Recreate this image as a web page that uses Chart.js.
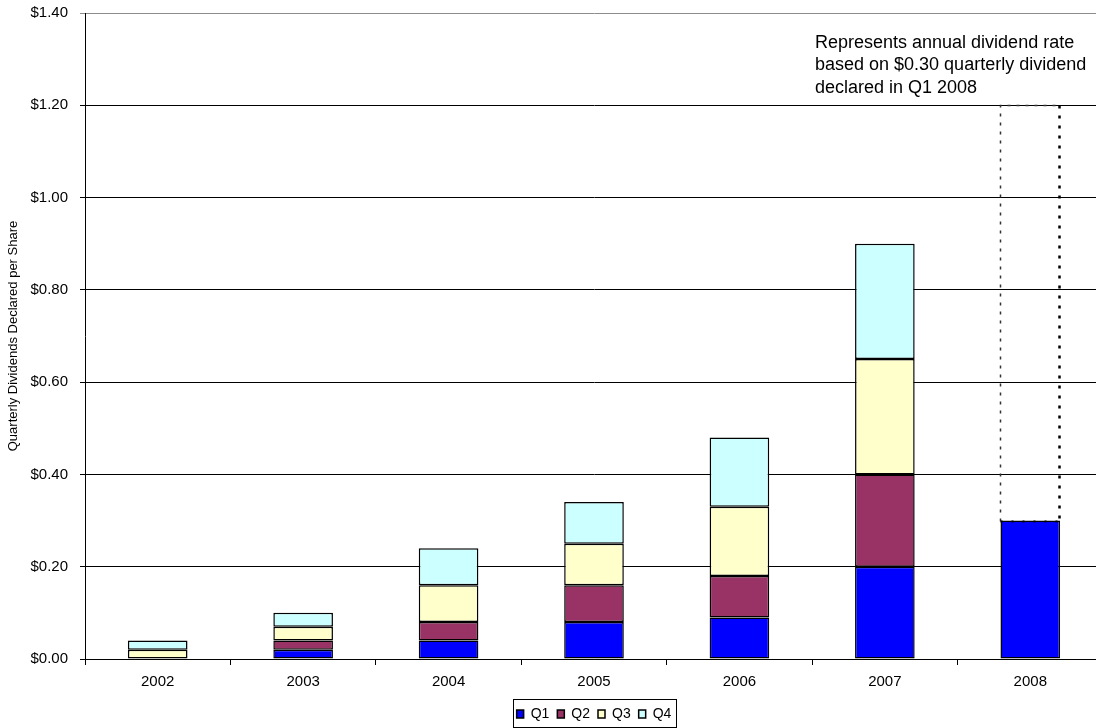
<!DOCTYPE html>
<html>
<head>
<meta charset="utf-8">
<script src="https://cdn.jsdelivr.net/npm/chart.js@4/dist/chart.umd.min.js"></script>
<style>
  html, body { margin: 0; padding: 0; background: #fff; overflow: hidden; }
  #wrap { width: 1184px; height: 728px; }
</style>
</head>
<body>
<div id="wrap"><canvas id="c" width="1184" height="728"></canvas></div>
<script>
// Dividends declared per share, by year and quarter
const years = ['2002', '2003', '2004', '2005', '2006', '2007', '2008'];
const q1 = [null, 0.02, 0.04, 0.08, 0.09, 0.20, 0.30];
const q2 = [null, 0.02, 0.04, 0.08, 0.09, 0.20, null];
const q3 = [0.02, 0.03, 0.08, 0.09, 0.15, 0.25, null];
const q4 = [0.02, 0.03, 0.08, 0.09, 0.15, 0.25, null];
// Remainder of the 2008 annual rate ($0.30 x 4 = $1.20) above Q1
const annualRemainder = [null, null, null, null, null, null, 0.90];
const yTicks = [0, 0.2, 0.4, 0.6, 0.8, 1.0, 1.2, 1.4];
const noteLines = [
  'Represents annual dividend rate',
  'based on $0.30 quarterly dividend',
  'declared in Q1 2008'
];

const FONT = '"Liberation Sans", Arial, sans-serif';

const barCommon = {
  borderColor: '#000',
  borderWidth: 1.5,
  borderSkipped: false,
  barPercentage: 0.41,
  categoryPercentage: 1.0
};

// Dotted outline around the annual-rate bar
const dottedOutline = {
  id: 'dottedOutline',
  afterDatasetsDraw(chart) {
    const meta = chart.getDatasetMeta(4);
    const ctx = chart.ctx;
    meta.data.forEach((bar, i) => {
      if (annualRemainder[i] == null) return;
      const p = bar.getProps(['x', 'y', 'base', 'width'], true);
      const l = Math.round(p.x - p.width / 2) + 0.5;
      const r = Math.round(p.x + p.width / 2) - 0.5;
      const t = Math.round(p.y) + 0.5;
      const b = Math.round(p.base) + 0.5;
      ctx.save();
      // top and left edges
      ctx.strokeStyle = '#333';
      ctx.lineWidth = 1.5;
      ctx.setLineDash([3, 6]);
      ctx.beginPath();
      ctx.moveTo(l, b); ctx.lineTo(l, t); ctx.lineTo(r, t);
      ctx.stroke();
      // right edge, heavier
      ctx.strokeStyle = '#000';
      ctx.lineWidth = 2.5;
      ctx.setLineDash([3, 7]);
      ctx.beginPath();
      ctx.moveTo(r, t); ctx.lineTo(r, b);
      ctx.stroke();
      // bottom edge over the Q1 bar
      ctx.lineWidth = 2;
      ctx.setLineDash([2, 9]);
      ctx.beginPath();
      ctx.moveTo(l, b); ctx.lineTo(r, b);
      ctx.stroke();
      ctx.restore();
    });
  }
};

// Explanatory note above the 2008 bar
const notePlugin = {
  id: 'note',
  afterDraw(chart) {
    const ctx = chart.ctx;
    ctx.save();
    ctx.fillStyle = '#000';
    ctx.font = '18px ' + FONT;
    ctx.textAlign = 'left';
    ctx.textBaseline = 'middle';
    noteLines.forEach((s, i) => ctx.fillText(s, 815, 43 + i * 22.5));
    ctx.restore();
  }
};

// Thin frame around the legend entries
const legendFrame = {
  id: 'legendFrame',
  afterDraw(chart) {
    const boxes = chart.legend && chart.legend.legendHitBoxes;
    if (!boxes || !boxes.length) return;
    let l = Infinity, r = -Infinity, t = Infinity, b = -Infinity;
    boxes.forEach(h => {
      l = Math.min(l, h.left); r = Math.max(r, h.left + h.width);
      t = Math.min(t, h.top); b = Math.max(b, h.top + h.height);
    });
    const cy = (t + b) / 2;
    const ctx = chart.ctx;
    ctx.save();
    ctx.strokeStyle = '#000';
    ctx.lineWidth = 1;
    ctx.strokeRect(Math.round(l - 4) + 0.5, Math.round(cy - 15) + 0.5,
                   Math.round(r - l + 8), 28);
    ctx.restore();
  }
};

new Chart(document.getElementById('c'), {
  type: 'bar',
  data: {
    labels: years,
    datasets: [
      Object.assign({ label: 'Q1', data: q1, backgroundColor: '#0000FF' }, barCommon),
      Object.assign({ label: 'Q2', data: q2, backgroundColor: '#993366' }, barCommon),
      Object.assign({ label: 'Q3', data: q3, backgroundColor: '#FFFFCC' }, barCommon),
      Object.assign({ label: 'Q4', data: q4, backgroundColor: '#CCFFFF' }, barCommon),
      Object.assign({}, barCommon, {
        label: 'Annual rate', data: annualRemainder,
        backgroundColor: 'rgba(255,255,255,0)', borderWidth: 0
      })
    ]
  },
  options: {
    responsive: false,
    animation: false,
    layout: { padding: { top: 0, right: 81, left: 0, bottom: -3 } },
    plugins: {
      tooltip: { enabled: false },
      legend: {
        position: 'bottom',
        fullSize: false,
        labels: {
          filter: item => item.datasetIndex < 4,
          boxWidth: 7,
          boxHeight: 8,
          padding: 8,
          color: '#000',
          font: { family: FONT, size: 14 }
        }
      }
    },
    scales: {
      x: {
        stacked: true,
        offset: true,
        grid: {
          offset: true,
          drawOnChartArea: false,
          drawTicks: true,
          tickLength: 6,
          color: '#000'
        },
        border: { color: '#000', width: 1 },
        ticks: { color: '#000', padding: 8, font: { family: FONT, size: 15 }, maxRotation: 0 },
        afterFit(s) { s.height = 40; }
      },
      y: {
        stacked: true,
        min: 0,
        max: 1.4,
        afterBuildTicks(s) { s.ticks = yTicks.map(v => ({ value: v })); },
        afterFit(s) { s.width = 85; s.paddingTop = 13; s.paddingBottom = 0; },
        grid: {
          color: ctx => (ctx.tick && ctx.tick.value >= 1.39 ? '#8c8c8c' : '#000'),
          lineWidth: 1,
          drawTicks: true,
          tickLength: 5
        },
        border: { color: '#000', width: 1 },
        ticks: {
          color: '#000',
          padding: 12,
          font: { family: FONT, size: 15 },
          callback: v => '$' + Number(v).toFixed(2)
        },
        title: {
          display: true,
          text: 'Quarterly Dividends Declared per Share',
          color: '#000',
          font: { family: FONT, size: 13 },
          padding: { top: 6, bottom: 0 }
        }
      }
    }
  },
  plugins: [dottedOutline, notePlugin, legendFrame]
});
</script>
</body>
</html>
